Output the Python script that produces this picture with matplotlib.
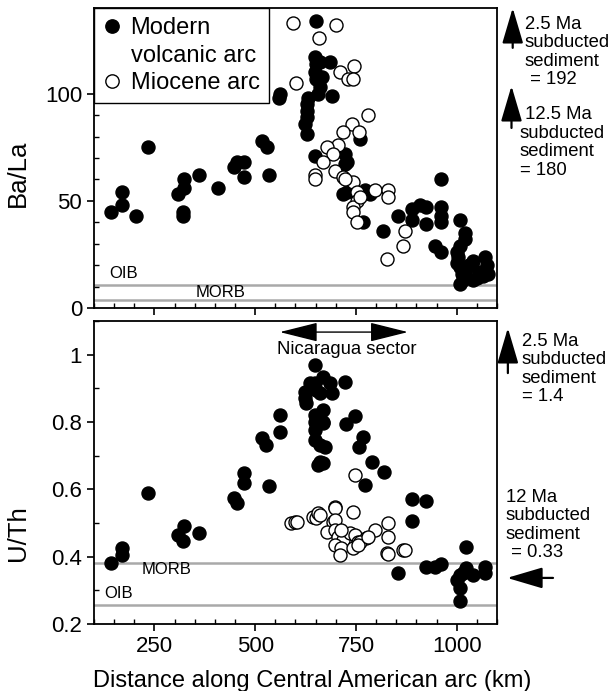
import matplotlib
matplotlib.use('Agg')
import matplotlib.pyplot as plt
from matplotlib.lines import Line2D
from matplotlib.ticker import MultipleLocator, FixedLocator, FixedFormatter

plt.rcParams['font.family'] = ['Liberation Sans', 'DejaVu Sans']

# Ba/La, modern volcanic arc
bala_modern_km = [141, 170, 170, 203, 235, 308, 324, 324, 322, 322, 361, 407, 447, 454, 472, 472,
                  518, 530, 534, 561, 560, 650, 648, 652, 661, 685, 648, 665, 652, 661, 656, 690,
                  632, 628, 628, 628, 624, 628, 648, 727, 760, 772, 727, 723, 723, 718, 785, 768,
                  961, 855, 818, 888, 909, 925, 888, 925, 962, 962, 962, 946, 962, 1008, 1020,
                  1020, 1008, 1004, 1008, 1012, 1016, 1008, 1041, 1041, 1024, 1070, 1074, 1078,
                  1066, 1000, 1030, 1055, 1000, 1050]
bala_modern = [45, 54, 48, 43, 75, 53, 60, 56, 45, 43, 62, 56, 66, 68, 68, 61,
               78, 75, 62, 100, 98, 134, 117, 114, 115, 115, 110, 108, 107, 103, 100, 99,
               98, 95, 92, 89, 86, 81, 71, 68, 79, 55, 54, 72, 67, 53, 53, 40,
               60, 43, 36, 46, 48, 47, 41, 39, 47, 43, 40, 29, 26, 41, 35,
               32, 29, 24, 19, 16, 13, 11, 22, 13, 18, 24, 20, 16,
               15, 26, 20, 17, 21, 14]

# Ba/La, Miocene arc
bala_miocene_km = [593, 700, 659, 601, 710, 731, 745, 743, 780, 739, 758, 718, 706, 677, 694, 669,
                   698, 648, 648, 718, 743, 752, 752, 743, 743, 797, 830, 830, 752, 871, 867,
                   828, 760, 723]
bala_miocene = [133, 132, 126, 105, 110, 107, 113, 107, 90, 86, 82, 82, 76, 75, 72, 68,
                64, 62, 60, 61, 59, 54, 50, 47, 45, 55, 55, 52, 40, 36, 29,
                23, 52, 60]

# U/Th, modern volcanic arc
uth_modern_km = [141, 170, 170, 235, 308, 324, 322, 361, 447, 454, 472, 472, 534, 516, 528, 561,
                 561, 648, 669, 648, 636, 685, 623, 623, 627, 652, 661, 690, 723, 669, 648, 648,
                 648, 669, 669, 648, 661, 673, 661, 669, 656, 725, 747, 768, 758, 789, 820, 772,
                 888, 925, 888, 855, 925, 946, 962, 1024, 1008, 1024, 1041, 1008, 1008, 1070,
                 1070, 1000, 1016]
uth_modern = [0.38, 0.425, 0.405, 0.59, 0.465, 0.49, 0.447, 0.471, 0.573, 0.56, 0.648, 0.618,
              0.61, 0.751, 0.731, 0.821, 0.771, 0.97, 0.934, 0.915, 0.915, 0.915, 0.89, 0.87,
              0.855, 0.895, 0.885, 0.885, 0.92, 0.836, 0.821, 0.801, 0.776, 0.796, 0.80, 0.746,
              0.731, 0.727, 0.682, 0.677, 0.672, 0.794, 0.818, 0.756, 0.727, 0.682, 0.652, 0.613,
              0.57, 0.566, 0.507, 0.352, 0.368, 0.368, 0.378, 0.428, 0.346, 0.365, 0.346, 0.306,
              0.269, 0.368, 0.351, 0.33, 0.35]

# U/Th, Miocene arc
uth_miocene_km = [590, 599, 603, 644, 652, 656, 661, 698, 698, 743, 694, 698, 677, 698, 706, 718,
                  735, 747, 756, 776, 797, 830, 830, 698, 714, 710, 743, 760, 826, 867, 871, 747,
                  714, 830, 756, 780]
uth_miocene = [0.499, 0.504, 0.504, 0.519, 0.514, 0.529, 0.524, 0.548, 0.544, 0.534, 0.504, 0.509,
               0.474, 0.479, 0.459, 0.449, 0.469, 0.464, 0.444, 0.454, 0.479, 0.501, 0.459, 0.435,
               0.425, 0.405, 0.425, 0.444, 0.41, 0.42, 0.42, 0.643, 0.479, 0.408, 0.435, 0.458]

# reference lines
bala_oib, bala_morb = 10.5, 3.5
uth_morb, uth_oib = 0.38, 0.257

ms = 88
grey = '#a9a9a9'

fig = plt.figure(figsize=(6.16, 6.91), dpi=100)
ax1 = fig.add_axes([0.1526, 0.5543, 0.6542, 0.4342])
ax2 = fig.add_axes([0.1526, 0.0970, 0.6542, 0.4385])

for ax in (ax1, ax2):
    ax.set_xlim(100, 1100)
    ax.xaxis.set_major_locator(FixedLocator([250, 500, 750, 1000]))
    ax.xaxis.set_minor_locator(MultipleLocator(50))
    ax.tick_params(which='major', direction='out', length=5, width=1.2, labelsize=16,
                   top=False, right=False)
    ax.tick_params(which='minor', direction='in', length=3.5, width=1.0, top=False, right=False)
    for s in ax.spines.values():
        s.set_linewidth(1.3)

# ---- top panel: Ba/La
ax1.axhline(bala_oib, color=grey, lw=1.8, zorder=1)
ax1.axhline(bala_morb, color=grey, lw=1.8, zorder=1)
ax1.scatter(bala_modern_km, bala_modern, s=ms, c='k', edgecolors='k', lw=1, zorder=3)
ax1.scatter(bala_miocene_km, bala_miocene, s=ms, c='w', edgecolors='k', lw=1, zorder=4)
ax1.set_ylim(0, 140)
ax1.yaxis.set_major_locator(FixedLocator([0, 50, 100]))
ax1.yaxis.set_minor_locator(MultipleLocator(10))
ax1.tick_params(labelbottom=False)
ax1.set_ylabel('Ba/La', fontsize=18.5)
ax1.yaxis.set_label_coords(-0.16, 0.45)
ax1.text(137, 16, 'OIB', fontsize=12, va='center', ha='left')
ax1.text(351, 7, 'MORB', fontsize=12, va='center', ha='left')

handles = [Line2D([], [], marker='o', ls='none', mfc='k', mec='k', ms=9.6),
           Line2D([], [], marker='None', ls='none'),
           Line2D([], [], marker='o', ls='none', mfc='w', mec='k', ms=9.6)]
leg = ax1.legend(handles, ['Modern', 'volcanic arc', 'Miocene arc'], loc='upper left',
                 bbox_to_anchor=(0, 1), borderaxespad=0, fontsize=17, fancybox=False,
                 framealpha=1, edgecolor='k', handlelength=0.7, handletextpad=0.45,
                 labelspacing=0.22, borderpad=0.4)
leg.get_frame().set_linewidth(1.0)
leg.set_zorder(10)

arrow_up = dict(arrowstyle='-|>,head_length=2.2,head_width=0.65', lw=1.6, color='k',
                mutation_scale=10, shrinkA=0, shrinkB=0)
ax1.annotate('', xy=(1.039, 1.0), xytext=(1.039, 0.867), xycoords='axes fraction',
             arrowprops=arrow_up, annotation_clip=False)
ax1.text(1.069, 0.853, '2.5 Ma\nsubducted\nsediment\n = 192', transform=ax1.transAxes,
         fontsize=13.3, va='center', ha='left', linespacing=1.12)
ax1.annotate('', xy=(1.036, 0.74), xytext=(1.036, 0.60), xycoords='axes fraction',
             arrowprops=arrow_up, annotation_clip=False)
ax1.text(1.057, 0.552, ' 12.5 Ma\nsubducted\nsediment\n= 180', transform=ax1.transAxes,
         fontsize=13.3, va='center', ha='left', linespacing=1.12)

# ---- bottom panel: U/Th
ax2.axhline(uth_morb, color=grey, lw=1.8, zorder=1)
ax2.axhline(uth_oib, color=grey, lw=1.8, zorder=1)
ax2.scatter(uth_modern_km, uth_modern, s=ms, c='k', edgecolors='k', lw=1, zorder=3)
ax2.scatter(uth_miocene_km, uth_miocene, s=ms, c='w', edgecolors='k', lw=1, zorder=4)
ax2.set_ylim(0.2, 1.1)
ax2.yaxis.set_major_locator(FixedLocator([0.2, 0.4, 0.6, 0.8, 1.0]))
ax2.yaxis.set_major_formatter(FixedFormatter(['0.2', '0.4', '0.6', '0.8', '1']))
ax2.yaxis.set_minor_locator(MultipleLocator(0.1))
ax2.set_ylabel('U/Th', fontsize=18.5)
ax2.yaxis.set_label_coords(-0.16, 0.3)
ax2.set_xlabel('Distance along Central American arc (km)', fontsize=17)
ax2.xaxis.set_label_coords(0.541, -0.152)
ax2.text(218, 0.362, 'MORB', fontsize=12, va='center', ha='left')
ax2.text(125, 0.291, 'OIB', fontsize=12, va='center', ha='left')

ax2.annotate('', xy=(561, 1.067), xytext=(879, 1.067),
             arrowprops=dict(arrowstyle='<|-|>,head_length=2.4,head_width=0.6', lw=1.0,
                             color='k', mutation_scale=10, shrinkA=0, shrinkB=0))
ax2.text(728, 1.014, 'Nicaragua sector', fontsize=13.3, ha='center', va='center')

ax2.annotate('', xy=(1.027, 0.977), xytext=(1.027, 0.828), xycoords='axes fraction',
             arrowprops=arrow_up, annotation_clip=False)
ax2.text(1.062, 0.842, '2.5 Ma\nsubducted\nsediment\n= 1.4', transform=ax2.transAxes,
         fontsize=13.3, va='center', ha='left', linespacing=1.12)
ax2.text(1.022, 0.327, '12 Ma\nsubducted\nsediment\n = 0.33', transform=ax2.transAxes,
         fontsize=13.3, va='center', ha='left', linespacing=1.12)
ax2.annotate('', xy=(1.025, 0.152), xytext=(1.139, 0.152), xycoords='axes fraction',
             arrowprops=arrow_up, annotation_clip=False)

fig.savefig('out.png', dpi=100)
